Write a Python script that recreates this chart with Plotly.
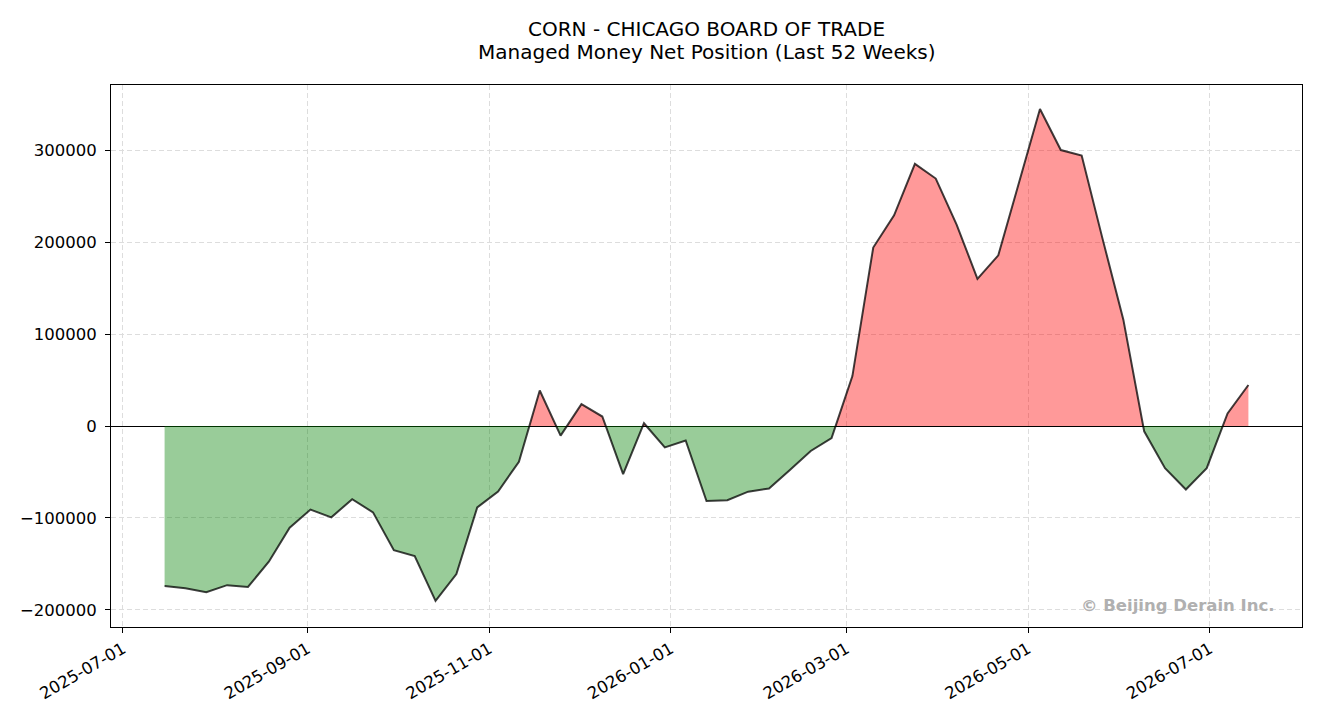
import pandas as pd
import plotly.graph_objects as go

# weekly report dates (Tuesday) and managed money net position
report_dates = [
    "2025-07-15", "2025-07-22", "2025-07-29", "2025-08-05", "2025-08-12", "2025-08-19",
    "2025-08-26", "2025-09-02", "2025-09-09", "2025-09-16", "2025-09-23", "2025-09-30",
    "2025-10-07", "2025-10-14", "2025-10-21", "2025-10-28", "2025-11-04", "2025-11-11",
    "2025-11-18", "2025-11-25", "2025-12-02", "2025-12-09", "2025-12-16", "2025-12-23",
    "2025-12-30", "2026-01-06", "2026-01-13", "2026-01-20", "2026-01-27", "2026-02-03",
    "2026-02-10", "2026-02-17", "2026-02-24", "2026-03-03", "2026-03-10", "2026-03-17",
    "2026-03-24", "2026-03-31", "2026-04-07", "2026-04-14", "2026-04-21", "2026-04-28",
    "2026-05-05", "2026-05-12", "2026-05-19", "2026-05-26", "2026-06-02", "2026-06-09",
    "2026-06-16", "2026-06-23", "2026-06-30", "2026-07-07", "2026-07-14",
]
net_position = [
    -174000, -176500, -180800, -173000, -175000, -147500, -110600, -90800, -99300, -79500,
    -93900, -135000, -141300, -190100, -161000, -88500, -71200, -38800, 38600, -10500,
    23800, 10300, -52400, 3000, -23300, -15800, -81500, -80700, -71400, -67900,
    -47700, -27200, -13200, 54300, 194000, 229000, 285000, 269000, 219000, 160000,
    185500, 265000, 344600, 300000, 294000, 203700, 115600, -5800, -45800, -69000,
    -45800, 13600, 44600,
]

x_ticks = ["2025-07-01", "2025-09-01", "2025-11-01", "2026-01-01",
           "2026-03-01", "2026-05-01", "2026-07-01"]
y_ticks = [-200000, -100000, 0, 100000, 200000, 300000]

dates = pd.to_datetime(report_dates)

# insert zero crossings so the red/green fills meet at 0 (like fill_between interpolate)
xs, ys = [dates[0]], [net_position[0]]
for i in range(1, len(net_position)):
    v0, v1 = net_position[i - 1], net_position[i]
    if v0 * v1 < 0:
        t = v0 / (v0 - v1)
        xs.append(dates[i - 1] + (dates[i] - dates[i - 1]) * t)
        ys.append(0)
    xs.append(dates[i])
    ys.append(v1)

fig = go.Figure()
fig.add_trace(go.Scatter(
    x=xs, y=[max(v, 0) for v in ys], mode="lines", fill="tozeroy",
    fillcolor="rgba(255,0,0,0.4)", line=dict(width=0), hoverinfo="skip",
))
fig.add_trace(go.Scatter(
    x=xs, y=[min(v, 0) for v in ys], mode="lines", fill="tozeroy",
    fillcolor="rgba(0,128,0,0.4)", line=dict(width=0), hoverinfo="skip",
))
fig.add_trace(go.Scatter(
    x=dates, y=net_position, mode="lines",
    line=dict(color="rgba(0,0,0,0.75)", width=2),
))

font = "DejaVu Sans, Liberation Sans, sans-serif"

# page body has an 8px margin, so the plot box is shifted back by that much
fig.update_layout(
    width=1320, height=720,
    margin=dict(l=101, r=26, t=77, b=101),
    paper_bgcolor="white", plot_bgcolor="white",
    showlegend=False,
    font=dict(family=font, size=16, color="black"),
    annotations=[
        dict(text="CORN - CHICAGO BOARD OF TRADE", xref="paper", yref="paper",
             x=0.5, y=1.103, xanchor="center", yanchor="middle", showarrow=False,
             font=dict(size=20)),
        dict(text="Managed Money Net Position (Last 52 Weeks)", xref="paper", yref="paper",
             x=0.5, y=1.061, xanchor="center", yanchor="middle", showarrow=False,
             font=dict(size=20)),
        dict(text="<b>© Beijing Derain Inc.</b>", xref="paper", yref="paper",
             x=0.979, y=0.039, xanchor="right", yanchor="middle", showarrow=False,
             font=dict(size=16.5, color="#b0b0b0")),
    ],
)

fig.update_xaxes(
    type="date", range=["2025-06-27", "2026-08-01"],
    tickvals=x_ticks, tickformat="%Y-%m-%d", tickangle=-30,
    ticks="outside", ticklen=5, tickcolor="black",
    showline=True, mirror=True, linecolor="black", linewidth=1,
    showgrid=True, gridcolor="#dddddd", griddash="5px,3px", gridwidth=1,
    tickfont=dict(size=16.5),
)
fig.update_yaxes(
    range=[-218500, 370700], tickvals=y_ticks, tickformat="d",
    ticks="outside", ticklen=5, tickcolor="black", ticklabelstandoff=5,
    showline=True, mirror=True, linecolor="black", linewidth=1,
    showgrid=True, gridcolor="#dddddd", griddash="5px,3px", gridwidth=1,
    zeroline=True, zerolinecolor="black", zerolinewidth=1.2,
    tickfont=dict(size=16.5),
)

fig.write_html("out.html")
